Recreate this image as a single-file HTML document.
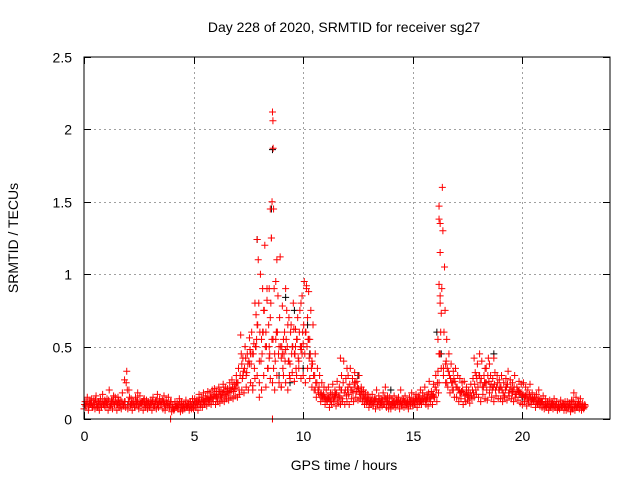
<!DOCTYPE html>
<html><head><meta charset="utf-8"><style>
html,body{margin:0;padding:0;background:#fff;}
svg{display:block;font-family:"Liberation Sans",sans-serif;}
</style></head><body>
<svg id="chart" width="640" height="480" viewBox="0 0 640 480" xmlns="http://www.w3.org/2000/svg">
<rect width="640" height="480" fill="#fff"/>
<text x="344" y="32" font-size="14" text-anchor="middle">Day 228 of 2020, SRMTID for receiver sg27</text>
<text transform="translate(18,238) rotate(-90)" font-size="14" text-anchor="middle">SRMTID / TECUs</text>
<text x="344" y="470" font-size="14" text-anchor="middle">GPS time / hours</text>
<g id="grid"></g>
<g id="ticks"></g>
<g id="pts"></g>
<rect x="84" y="57" width="526" height="362" fill="none" stroke="#000" stroke-width="1"/>
</svg>
<script>
const xTicks=[0,5,10,15,20];
const yTicks=[0,0.5,1,1.5,2,2.5];
const yTickLabels=["0","0.5","1","1.5","2","2.5"];
const baseT=[];
const baseLo=[.07,.09,.06,.1,.08,.07,.09,.06,.08,.1, .08,.06,.09,.07,.1,.06,.08,.07,.09,.08, .07,.09,.06,.08,.1,.07,.09,.06,.08,.07, .08,.06,.09,.07,.08,.1,.07,.06,.09,.08, .05,.06,.08,.07,.05,.06,.07,.08,.06,.07, .07,.08,.06,.09,.08,.1,.09,.11,.1,.12, .1,.12,.11,.13,.12,.14,.13,.15,.14,.16, .15,.17,.2,.18,.22,.2,.25,.23,.28,.3, .25,.2,.3,.22,.35,.28,.25,.2,.3,.25, .22,.3,.25,.2,.28,.32,.26,.3,.35,.28, .3,.25,.35,.28,.22,.2,.15,.18,.12,.14, .1,.12,.08,.1,.12,.09,.11,.1,.12,.1, .12,.1,.14,.12,.15,.13,.14,.12,.1,.11, .08,.1,.09,.07,.1,.08,.09,.1,.08,.07, .07,.09,.08,.1,.07,.09,.08,.1,.07,.09, .09,.1,.08,.11,.1,.12,.1,.09,.12,.1, .15,.12,.25,.35,.3,.25,.22,.18,.2,.15, .15,.12,.14,.1,.12,.13,.11,.14,.15,.17, .15,.12,.17,.14,.13,.18,.15,.12,.16,.14, .14,.12,.15,.13,.16,.14,.12,.15,.13,.11, .1,.12,.09,.11,.1,.12,.08,.1,.09,.08, .07,.08,.06,.09,.07,.08,.06,.07,.08,.06, .06,.08,.05,.07,.06,.08,.07,.06,.07];
const baseHi=[.12,.15,.11,.14,.13,.16,.12,.14,.17,.13, .14,.2,.13,.16,.12,.15,.13,.18,.12,.33, .2,.14,.12,.15,.13,.16,.12,.14,.13,.12, .13,.15,.12,.17,.14,.12,.16,.13,.15,.12, .1,.12,.11,.14,.12,.1,.13,.11,.12,.14, .14,.13,.17,.15,.18,.16,.19,.18,.2,.21, .19,.22,.2,.24,.22,.21,.25,.27,.24,.3, .35,.58,.42,.5,.45,.56,.6,.52,.72,1.1, 1.0,.9,1.2,.82,.9,1.25,1.45,.95,.85,1.12, .78,.6,.75,.7,.65,.8,.62,.7,.75,.85, .95,.92,.88,.75,.65,.45,.35,.3,.25,.22, .2,.22,.18,.24,.2,.26,.22,.3,.4,.28, .3,.35,.28,.32,.26,.3,.22,.2,.18,.17, .15,.17,.14,.2,.16,.14,.18,.22,.16,.15, .14,.16,.13,.15,.2,.14,.16,.12,.15,.18, .14,.17,.16,.2,.18,.22,.17,.26,.19,.24, .3,.33,.8,1.6,1.05,.55,.45,.38,.33,.35, .3,.28,.25,.26,.22,.2,.24,.28,.32,.38, .45,.4,.3,.35,.42,.3,.28,.32,.3,.27, .3,.25,.28,.33,.27,.25,.3,.22,.26,.24, .25,.22,.2,.24,.18,.15,.17,.2,.14,.16, .14,.12,.13,.11,.14,.12,.1,.13,.11,.12, .12,.11,.13,.18,.15,.12,.14,.11,.1];
const baseM2=[.1,.12,.09,.11,.1,.13,.08,.11,.12,.09, .11,.13,.1,.12,.15,.1,.11,.12,.1,.25, .12,.1,.11,.09,.12,.1,.11,.13,.1,.11, .1,.12,.09,.13,.11,.1,.12,.09,.11,.1, .08,.07,.09,.1,.08,.09,.1,.09,.08,.1, .1,.11,.12,.1,.13,.12,.14,.13,.15,.16, .15,.17,.16,.18,.17,.19,.18,.2,.19,.22, .25,.3,.28,.35,.32,.4,.38,.45,.5,.65, .6,.45,.75,.5,.65,.8,.55,.4,.6,.7, .5,.45,.55,.4,.6,.5,.45,.55,.6,.5, .65,.6,.55,.45,.38,.3,.25,.22,.18,.17, .14,.16,.13,.17,.15,.18,.16,.2,.25,.2, .2,.24,.2,.22,.19,.21,.17,.15,.14,.13, .11,.13,.12,.14,.12,.11,.13,.15,.12,.11, .1,.12,.11,.13,.12,.11,.12,.11,.1,.13, .12,.14,.12,.15,.13,.16,.13,.18,.15,.17, .22,.25,.45,.9,.6,.4,.33,.28,.25,.26, .22,.2,.19,.18,.17,.16,.18,.2,.24,.28, .3,.28,.22,.25,.3,.22,.2,.24,.22,.2, .22,.18,.2,.24,.2,.19,.22,.17,.19,.18, .17,.16,.14,.17,.13,.13,.12,.14,.11,.12, .1,.1,.09,.1,.1,.1,.08,.1,.09,.09, .09,.09,.08,.12,.1,.1,.1,.08,.08];
const baseM3=[.09,.1,.13,.08,.11,.1,.12,.09,.1,.12, .1,.09,.12,.1,.11,.13,.09,.1,.12,.2, .15,.11,.1,.12,.09,.11,.12,.1,.11,.09, .11,.09,.12,.1,.12,.13,.1,.11,.09,.12, .07,.09,.08,.11,.09,.08,.09,.1,.09,.08, .11,.1,.13,.12,.12,.14,.13,.15,.14,.17, .14,.19,.15,.2,.16,.18,.2,.22,.21,.25, .2,.45,.33,.42,.38,.48,.45,.35,.55,.8, .4,.6,.5,.35,.45,.55,.9,.6,.45,.5, .35,.4,.5,.3,.45,.62,.35,.42,.5,.6, .45,.5,.42,.35,.3,.25,.2,.17,.16,.15, .13,.15,.12,.14,.17,.13,.15,.14,.18,.16, .17,.2,.18,.25,.22,.18,.19,.16,.13,.14, .12,.11,.13,.1,.13,.12,.1,.14,.11,.1, .11,.1,.12,.11,.1,.13,.11,.12,.12,.11, .11,.13,.14,.12,.14,.13,.15,.14,.16,.15, .2,.18,.6,1.3,.75,.35,.3,.25,.28,.22, .2,.18,.2,.16,.18,.15,.16,.18,.2,.22, .25,.22,.25,.2,.26,.24,.22,.2,.25,.22, .2,.16,.22,.18,.22,.2,.17,.2,.18,.16, .15,.17,.13,.15,.14,.15,.11,.13,.12,.1, .09,.1,.08,.11,.09,.1,.08,.09,.1,.08, .08,.1,.07,.09,.08,.11,.09,.08,.09];
const baseMidT=[0.05,0.35,0.65,0.95,1.25,1.55,1.85,2.15,2.45,2.75,3.05,3.35,3.65,3.95,4.25,4.55,4.85,5.15,5.45,5.75,6.05,6.35,6.65,6.95,7.25,7.55,7.85,8.15,8.45,8.75,9.05,9.35,9.65,9.95,10.25,10.55,10.85,11.15,11.45,11.75,12.05,12.35,12.65,12.95,13.25,13.55,13.85,14.15,14.45,14.75,15.05,15.35,15.65,15.95,16.25,16.55,16.85,17.15,17.45,17.75,18.05,18.35,18.65,18.95,19.25,19.55,19.85,20.15,20.45,20.75,21.05,21.35,21.65,21.95,22.25,22.55,22.85];
const baseMidV=[.1,.11,.09,.12,.1,.11,.27,.1,.18,.11,.12,.1,.11,.0,.09,.1,.12,.13,.12,.15,.16,.18,.2,.25,.3,.38,.5,.6,.42,.55,.45,.4,.5,.45,.55,.2,.15,.14,.16,.2,.22,.25,.2,.12,.13,.11,.12,.11,.12,.1,.13,.12,.14,.16,.45,.25,.2,.18,.2,.28,.3,.25,.22,.2,.22,.18,.2,.16,.14,.12,.1,.1,.09,.1,.12,.1,.09];
const extraT=[7.2,7.4,7.6,7.8,7.9,8.0,8.1,8.2,8.3,8.35,8.45,8.5,8.55,8.58,8.6,8.62,8.63,8.65,8.7,8.8,8.9,9.0,9.1,9.2,9.3,9.4,9.5,9.6,9.7,9.8,9.9,10.0,10.1,10.2,10.3,10.4,7.7,8.0,8.6,9.0,8.8,8.5,9.9,10.15,9.2,7.9,16.2,16.2,16.25,16.25,16.2,16.25,16.3,16.15,16.2,16.4,17.8,18.7,17.9,18.3,18.5,16.5,12.0,11.7,8.6];
const extraV=[.38,.3,.45,.8,.65,.4,.55,.75,.6,.9,.5,.7,1.25,1.5,2.12,2.06,1.87,.35,.45,.6,.5,.42,.55,.48,.65,.38,.5,.45,.55,.4,.48,.52,.6,.7,.55,.4,.2,.15,0.0,.22,1.1,1.45,.8,.9,.9,1.24,1.47,1.38,1.35,1.15,.93,.85,.73,.55,.45,.35,.42,.42,.3,.35,.38,.38,.35,.42,0.0];
const blackT=[7.9,8.6,8.55,9.2,10.2,9.6,16.1,16.3,18.7,10.0,8.9,12.5,14,2,5,20,22.5,9.4,10.3];
const blackV=[1.24,1.86,1.45,0.84,0.65,0.75,0.6,0.45,0.45,0.35,0.3,0.3,0.2,0.1,0.1,0.15,0.08,0.25,0.45];
for(let i=0;i<229;i++) baseT.push(i/10);

const X0=84,X1=610,Y0=419,Y1=57;
const xs=t=>X0+(t/24)*(X1-X0);
const ys=v=>Y0-(v/2.5)*(Y0-Y1);
const NS="http://www.w3.org/2000/svg";
const grid=document.getElementById('grid'),ticks=document.getElementById('ticks'),pts=document.getElementById('pts');
function ln(p,x1,y1,x2,y2,st,dash){const l=document.createElementNS(NS,'line');l.setAttribute('x1',x1);l.setAttribute('y1',y1);l.setAttribute('x2',x2);l.setAttribute('y2',y2);l.setAttribute('stroke',st);l.setAttribute('stroke-width',1);if(dash)l.setAttribute('stroke-dasharray',dash);p.appendChild(l);return l;}
function tx(p,x,y,s,anchor){const t=document.createElementNS(NS,'text');t.setAttribute('x',x);t.setAttribute('y',y);t.setAttribute('font-size',14);t.setAttribute('text-anchor',anchor);t.textContent=s;p.appendChild(t);return t;}
yTicks.forEach((v,i)=>{const y=Math.round(ys(v))+0.5;
 if(v>0&&v<2.5){const g=ln(grid,X0,y,X1,y,'#a0a0a0','2,3');
  
  }
 const a=ln(ticks,X0,y,X0+7,y,'#000');
 const b=ln(ticks,X1-7,y,X1,y,'#000');
 const t=tx(ticks,72,y+5,yTickLabels[i],'end');
 
 });
xTicks.forEach(v=>{const x=Math.round(xs(v))+0.5;
 if(v>0){const g=ln(grid,x,Y1,x,Y0,'#a0a0a0','2,3');
  
  }
 const a=ln(ticks,x,Y0-7,x,Y0,'#000');
 const b=ln(ticks,x,Y1,x,Y1+7,'#000');
 const t=tx(ticks,x,441,String(v),'middle');
 
 });
function plus(t,v,col,name){const x=xs(t),y=ys(v);const p=document.createElementNS(NS,'path');
 p.setAttribute('d',`M${x-3.5},${y}H${x+3.5}M${x},${y-3.5}V${y+3.5}`);p.setAttribute('stroke',col);p.setAttribute('stroke-width',1);
 
 
 pts.appendChild(p);}
blackT.forEach((t,i)=>plus(t,blackV[i],'#000','black-point'));
baseT.forEach((t,i)=>{
 plus(t,baseLo[i],'#f00','red-point');
 plus(t+0.025,baseM2[i],'#f00','red-point');
 plus(t+0.05,baseHi[i],'#f00','red-point');
 plus(t+0.075,baseM3[i],'#f00','red-point');});
baseMidT.forEach((t,i)=>plus(t,baseMidV[i],'#f00','red-point'));
extraT.forEach((t,i)=>plus(t,extraV[i],'#f00','red-point'));
</script>
</body></html>
